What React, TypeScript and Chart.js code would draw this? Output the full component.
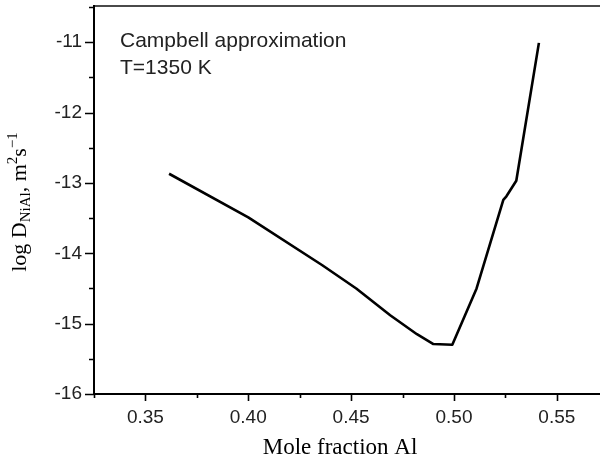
import React, { useEffect, useRef } from 'react';
import { Chart, registerables } from 'chart.js';

Chart.register(...registerables);

// ---- data ----
const moleFraction = [0.3615, 0.4, 0.436, 0.4525, 0.469, 0.482, 0.49, 0.4992, 0.511, 0.524, 0.5255, 0.5303, 0.5413];
const logD = [-12.87, -13.49, -14.17, -14.5, -14.88, -15.15, -15.29, -15.3, -14.5, -13.24, -13.19, -12.97, -11.01];

const xMajorTicks = [0.35, 0.4, 0.45, 0.5, 0.55];
const xTickLabels = ['0.35', '0.40', '0.45', '0.50', '0.55'];
const yMajorTicks = [-16, -15, -14, -13, -12, -11];
const yTickLabels = ['-16', '-15', '-14', '-13', '-12', '-11'];

const annotationLines = ['Campbell approximation', 'T=1350 K'];
const xTitle = 'Mole fraction Al';

const SANS = "'Liberation Sans', Arial, sans-serif";
const SERIF = "'Liberation Serif', 'Times New Roman', serif";

function labelFor(v: number, majors: number[], labels: string[]) {
  for (let i = 0; i < majors.length; i++) {
    if (Math.abs(majors[i] - v) < 1e-6) return labels[i];
  }
  return '';
}

function zeroPadding(s: any) {
  s.paddingTop = 0;
  s.paddingBottom = 0;
  s.paddingLeft = 0;
  s.paddingRight = 0;
}

// ticks every `step` (majors + minors) inside the axis range
function stepTicks(s: any, step: number) {
  const out: any[] = [];
  const k0 = Math.ceil(s.min / step - 1e-6);
  const k1 = Math.floor(s.max / step + 1e-6);
  for (let k = k0; k <= k1; k++) out.push({ value: +(k * step).toFixed(6) });
  s.ticks = out;
}

const decorPlugin = {
  id: 'decor',
  afterDraw(chart: any) {
    const { ctx, chartArea: a, scales } = chart;
    const xs = scales.x;
    const ys = scales.y;
    ctx.save();

    // top frame line
    ctx.strokeStyle = '#4a4a4a';
    ctx.lineWidth = 2;
    ctx.beginPath();
    ctx.moveTo(a.left, a.top - 1);
    ctx.lineTo(a.right, a.top - 1);
    ctx.stroke();

    // axis lines
    ctx.strokeStyle = '#000';
    ctx.lineWidth = 2;
    ctx.beginPath();
    ctx.moveTo(a.left, a.top - 2);
    ctx.lineTo(a.left, a.bottom + 1);
    ctx.moveTo(a.left - 1, a.bottom);
    ctx.lineTo(a.right, a.bottom);
    ctx.stroke();

    // tick marks (major + minor)
    ctx.lineWidth = 1.6;
    ctx.beginPath();
    xs.ticks.forEach((t: any) => {
      const v = t.value;
      const k = Math.round(v / 0.025);
      const major = k % 2 === 0;
      const px = Math.round(xs.getPixelForValue(v)) + 0.5;
      ctx.moveTo(px, a.bottom);
      ctx.lineTo(px, a.bottom + (major ? 7 : 4));
    });
    ys.ticks.forEach((t: any) => {
      const v = t.value;
      const k = Math.round(v / 0.5);
      const major = k % 2 === 0;
      const py = Math.round(ys.getPixelForValue(v)) + 0.5;
      ctx.moveTo(a.left, py);
      ctx.lineTo(a.left - (major ? 9 : 5), py);
    });
    ctx.stroke();

    // annotation
    ctx.fillStyle = '#222';
    ctx.font = `21px ${SANS}`;
    ctx.textAlign = 'left';
    ctx.textBaseline = 'alphabetic';
    ctx.fillText(annotationLines[0], 120, 46.5);
    ctx.fillText(annotationLines[1], 120, 74);

    // x title
    ctx.fillStyle = '#000';
    ctx.font = `23px ${SERIF}`;
    ctx.textAlign = 'center';
    ctx.fillText(xTitle, 340, 454);

    // y title with sub/superscripts
    const segs = [
      { t: 'log D', s: 22, dy: 0 },
      { t: 'NiAl', s: 15, dy: 4 },
      { t: ', m', s: 22, dy: 0 },
      { t: '2', s: 15, dy: -9 },
      { t: 's', s: 22, dy: 0 },
      { t: '\u22121', s: 15, dy: -9 },
    ];
    let total = 0;
    const widths: number[] = [];
    segs.forEach((sg) => {
      ctx.font = `${sg.s}px ${SERIF}`;
      const w = ctx.measureText(sg.t).width;
      widths.push(w);
      total += w;
    });
    ctx.translate(26, 202);
    ctx.rotate(-Math.PI / 2);
    ctx.textAlign = 'left';
    let x = -total / 2;
    segs.forEach((sg, i) => {
      ctx.font = `${sg.s}px ${SERIF}`;
      ctx.fillText(sg.t, x, sg.dy);
      x += widths[i];
    });

    ctx.restore();
  },
};

export default function App() {
  const canvasRef = useRef<HTMLCanvasElement | null>(null);

  useEffect(() => {
    const canvas = canvasRef.current;
    if (!canvas) return;
    const chart = new Chart(canvas, {
      type: 'line',
      data: {
        datasets: [
          {
            data: moleFraction.map((x, i) => ({ x, y: logD[i] })),
            borderColor: '#000',
            borderWidth: 2.6,
            pointRadius: 0,
            tension: 0,
            fill: false,
            borderJoinStyle: 'round',
            borderCapStyle: 'butt',
          },
        ],
      },
      options: {
        responsive: false,
        animation: false,
        layout: { padding: { top: 7, right: 0, left: 0, bottom: 0 } },
        plugins: {
          legend: { display: false },
          tooltip: { enabled: false },
          title: { display: false },
        },
        scales: {
          x: {
            type: 'linear',
            min: 0.325,
            max: 0.571,
            afterBuildTicks: (s: any) => stepTicks(s, 0.025),
            afterFit: (s: any) => {
              s.height = 67;
              zeroPadding(s);
            },
            grid: { display: false, drawTicks: false },
            border: { display: false },
            ticks: {
              autoSkip: false,
              maxRotation: 0,
              padding: 12,
              color: '#222',
              font: { family: SANS, size: 19 },
              callback: (v: any) => labelFor(Number(v), xMajorTicks, xTickLabels),
            },
          },
          y: {
            type: 'linear',
            min: -16,
            max: -10.5,
            afterBuildTicks: (s: any) => stepTicks(s, 0.5),
            afterFit: (s: any) => {
              s.width = 94;
              zeroPadding(s);
            },
            grid: { display: false, drawTicks: false },
            border: { display: false },
            ticks: {
              autoSkip: false,
              padding: 12,
              color: '#222',
              font: { family: SANS, size: 19 },
              callback: (v: any) => labelFor(Number(v), yMajorTicks, yTickLabels),
            },
          },
        },
      },
      plugins: [decorPlugin],
    });
    return () => chart.destroy();
  }, []);

  return (
    <div style={{ position: 'fixed', left: 0, top: 0, width: 600, height: 461, background: '#fff' }}>
      <canvas ref={canvasRef} width={600} height={461} style={{ display: 'block' }} />
    </div>
  );
}
